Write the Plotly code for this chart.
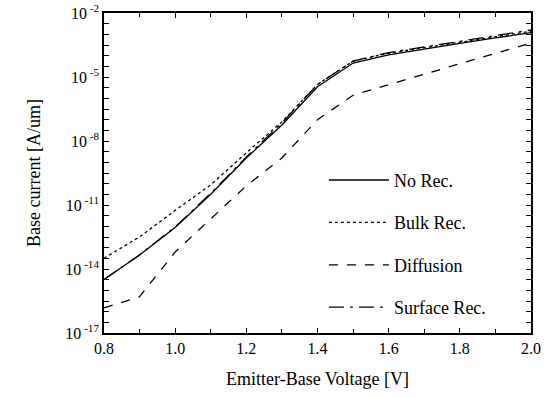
import plotly.graph_objects as go

voltage = [0.8, 0.9, 1.0, 1.1, 1.2, 1.3, 1.4, 1.5, 1.6, 1.7, 1.8, 1.9, 2.0]

no_rec = [3.2e-15, 4.5e-14, 8.9e-13, 3.2e-11, 1.6e-9, 5.6e-8, 3.5e-6,
          4.5e-5, 1.1e-4, 2.1e-4, 3.8e-4, 6.8e-4, 1.2e-3]
bulk_rec = [3.2e-14, 3.2e-13, 5.6e-12, 8.9e-11, 2.8e-9, 7.9e-8, 4.5e-6,
            5.6e-5, 1.3e-4, 2.4e-4, 4.4e-4, 7.8e-4, 1.4e-3]
diffusion = [1.5e-16, 5.0e-16, 6.3e-14, 2.2e-12, 7.9e-11, 1.6e-9, 1.0e-7,
             1.4e-6, 4.5e-6, 1.35e-5, 4.2e-5, 1.26e-4, 3.9e-4]
surface_rec = [3.2e-15, 4.6e-14, 9.5e-13, 3.5e-11, 1.8e-9, 7.0e-8, 4.5e-6,
               5.6e-5, 1.4e-4, 2.5e-4, 4.7e-4, 8.7e-4, 1.6e-3]

series_names = ["No Rec.", "Bulk Rec.", "Diffusion", "Surface Rec."]
series_values = [no_rec, bulk_rec, diffusion, surface_rec]
series_dash = ["solid", "dot", "dash", "longdashdot"]

y_exponents = [-2, -5, -8, -11, -14, -17]
x_tick_vals = [0.8, 1.0, 1.2, 1.4, 1.6, 1.8, 2.0]
x_tick_text = ["0.8", "1.0", "1.2", "1.4", "1.6", "1.8", "2.0"]

FONT = "Liberation Serif, Times New Roman, DejaVu Serif, serif"

fig = go.Figure()
for i, (name, vals, dash) in enumerate(zip(series_names, series_values, series_dash)):
    fig.add_trace(go.Scatter(
        x=voltage, y=vals, mode="lines", name=name,
        legendgroup=f"g{i}",
        line=dict(color="black", width=1.3, dash=dash),
    ))

# y ticks every half decade, labels every 3 decades
y_tickvals = []
y_ticktext = []
e = -2.0
while e >= -17.0 - 1e-9:
    y_tickvals.append(10 ** e)
    if abs(e - round(e)) < 1e-9 and int(round(e)) in y_exponents:
        y_ticktext.append(f"10<sup> {int(round(e))}</sup>")
    else:
        y_ticktext.append("")
    e -= 0.5

fig.update_layout(
    width=550, height=397,
    margin=dict(l=104, r=19, t=13, b=64),
    paper_bgcolor="white", plot_bgcolor="white",
    font=dict(family=FONT, size=16, color="black"),
    showlegend=True,
    legend=dict(
        x=0.515, y=0.535, xanchor="left", yanchor="top",
        bgcolor="rgba(0,0,0,0)", font=dict(family=FONT, size=18),
        traceorder="grouped", tracegroupgap=16, itemwidth=60,
    ),
    xaxis=dict(
        range=[0.8, 2.0], automargin=False,
        tickvals=x_tick_vals, ticktext=x_tick_text,
        ticks="inside", ticklen=5, tickcolor="black",
        minor=dict(dtick=0.1, ticks="inside", ticklen=4, tickcolor="black"),
        showline=True, linecolor="black", linewidth=1.5, mirror="allticks",
        showgrid=False, zeroline=False,
        tickfont=dict(family=FONT, size=16),
        title=dict(text="Emitter-Base Voltage [V]", font=dict(family=FONT, size=18), standoff=16),
    ),
    yaxis=dict(
        type="log", range=[-17, -2], automargin=False,
        tickvals=y_tickvals, ticktext=y_ticktext,
        ticks="inside", ticklen=5, tickcolor="black",
        showline=True, linecolor="black", linewidth=1.5, mirror="allticks",
        showgrid=False, zeroline=False,
        tickfont=dict(family=FONT, size=16),
        title=dict(text="Base current [A/um]", font=dict(family=FONT, size=18), standoff=20),
    ),
)

fig.write_html("out.html")
